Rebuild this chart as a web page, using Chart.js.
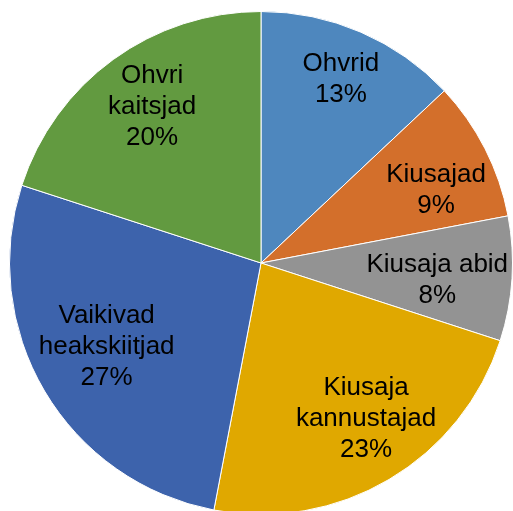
<!DOCTYPE html>
<html>
<head>
<meta charset="utf-8">
<script src="https://cdn.jsdelivr.net/npm/chart.js@4.4.0/dist/chart.umd.min.js"></script>
<style>
  html, body { margin: 0; padding: 0; background: #fff; overflow: hidden; }
  body { width: 513px; height: 511px; position: relative; }
  #pie { position: absolute; left: 9px; top: 11px; }
</style>
</head>
<body>
<canvas id="pie" width="504" height="504"></canvas>
<script>
// Data
const labels = [
  ['Ohvrid'],
  ['Kiusajad'],
  ['Kiusaja abid'],
  ['Kiusaja', 'kannustajad'],
  ['Vaikivad', 'heakskiitjad'],
  ['Ohvri', 'kaitsjad']
];
const shares = [13, 9, 8, 23, 27, 20];
const colors = ['#4E87BE', '#D36F2B', '#939393', '#E0A800', '#3D63AC', '#629A40'];

// label distance from centre (fraction of radius) and small nudges, px
const labelRadius = 0.75;
const labelNudge = [[5, -11], [7, 13], [-12, 5], [9, -7], [8, -12], [2, -4]];

// Draw the category name + percentage inside each slice
const sliceLabels = {
  id: 'sliceLabels',
  afterDatasetsDraw(chart) {
    const ctx = chart.ctx;
    const meta = chart.getDatasetMeta(0);
    const total = shares.reduce((a, b) => a + b, 0);
    ctx.save();
    ctx.font = '26px "Liberation Sans", Arial, sans-serif';
    ctx.fillStyle = '#000';
    ctx.textAlign = 'center';
    ctx.textBaseline = 'middle';
    const lineH = 31;
    meta.data.forEach((arc, i) => {
      const mid = (arc.startAngle + arc.endAngle) / 2;
      const r = arc.outerRadius * labelRadius;
      const x = arc.x + Math.cos(mid) * r + labelNudge[i][0];
      const y = arc.y + Math.sin(mid) * r + labelNudge[i][1];
      const lines = labels[i].concat([Math.round(shares[i] / total * 100) + '%']);
      const top = y - (lines.length - 1) * lineH / 2;
      lines.forEach((t, k) => ctx.fillText(t, x, top + k * lineH));
    });
    ctx.restore();
  }
};

new Chart(document.getElementById('pie').getContext('2d'), {
  type: 'pie',
  data: {
    labels: labels.map(l => l.join(' ')),
    datasets: [{
      data: shares,
      backgroundColor: colors,
      borderColor: '#ffffff',
      borderWidth: 1
    }]
  },
  options: {
    responsive: false,
    animation: false,
    events: [],
    layout: { padding: 0 },
    plugins: {
      legend: { display: false },
      tooltip: { enabled: false }
    }
  },
  plugins: [sliceLabels]
});
</script>
</body>
</html>
